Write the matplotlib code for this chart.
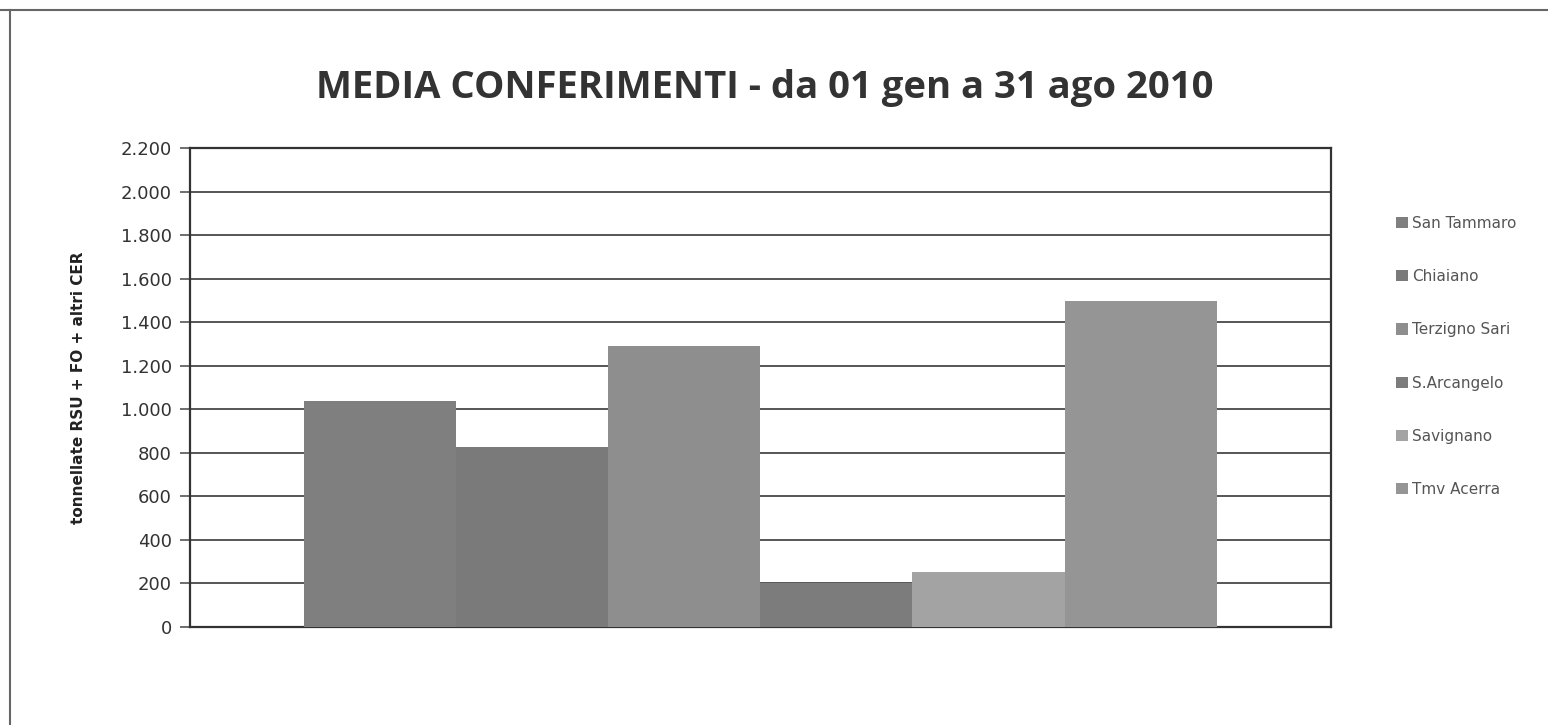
import matplotlib
matplotlib.use("Agg")
import matplotlib.pyplot as plt
from matplotlib.patches import Patch
from matplotlib.lines import Line2D

# data (tonnes)
SITES = ["San Tammaro", "Chiaiano", "Terzigno Sari", "S.Arcangelo", "Savignano", "Tmv Acerra"]
VALUES = [1040, 825, 1290, 200, 253, 1495]
COLORS = ["#7f7f7f", "#7a7a7a", "#8e8e8e", "#7c7c7c", "#a3a3a3", "#959595"]
YTICKS = [0, 200, 400, 600, 800, 1000, 1200, 1400, 1600, 1800, 2000, 2200]
YTICK_LABELS = ["0", "200", "400", "600", "800", "1.000", "1.200", "1.400",
                "1.600", "1.800", "2.000", "2.200"]

fig = plt.figure(figsize=(15.48, 7.25), dpi=100)
ax = fig.add_axes([0.1227, 0.1352, 0.737, 0.6607])

group_w = 0.8
w = group_w / len(VALUES)
for i, (name, v, c) in enumerate(zip(SITES, VALUES, COLORS)):
    ax.bar(0.1 + i * w + w / 2, v, width=w, color=c, label=name, zorder=3)

ax.set_xlim(0, 1)
ax.set_ylim(0, 2200)
ax.set_xticks([])
ax.set_yticks(YTICKS)
ax.set_yticklabels(YTICK_LABELS, fontsize=13, color="#333333", family="DejaVu Sans")
ax.tick_params(axis="y", length=7, width=1.2, color="#555555", pad=6)
ax.grid(axis="y", color="#555555", linewidth=1.4, zorder=0)
for s in ax.spines.values():
    s.set_color("#333333")
    s.set_linewidth(1.6)

ax.set_ylabel("tonnellate RSU + FO + altri CER", fontsize=11, fontweight="bold",
              family=["Liberation Sans Narrow", "DejaVu Sans"], color="#222222", labelpad=25)

fig.text(0.494, 0.879, "MEDIA CONFERIMENTI - da 01 gen a 31 ago 2010", ha="center", va="center",
         fontsize=27.5, fontweight="bold", family=["Open Sans", "DejaVu Sans"], color="#333333")

handles = [Patch(facecolor=c, edgecolor="none") for c in COLORS]
fig.legend(handles, SITES, loc="upper left", bbox_to_anchor=(0.893, 0.721), frameon=False,
           fontsize=11, labelspacing=2.5, handlelength=0.75, handleheight=0.75,
           handletextpad=0.3, labelcolor="#555555")

# outer chart frame (top and left edges visible in the scan)
fig.add_artist(Line2D([0.0, 1.0], [0.986, 0.986], transform=fig.transFigure, color="#666666", lw=1.5))
fig.add_artist(Line2D([0.0065, 0.0065], [0.0, 0.986], transform=fig.transFigure, color="#666666", lw=1.5))

fig.savefig("out.png", dpi=100)
